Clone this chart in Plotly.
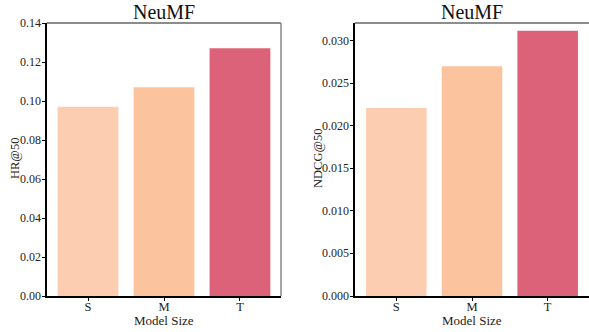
import plotly.graph_objects as go

categories = ["S", "M", "T"]
hr50 = [0.097, 0.107, 0.127]
ndcg50 = [0.0221, 0.0270, 0.0312]
bar_colors = ["#FDCDB1", "#FCC39F", "#DC627A"]
hr_ticks = [0.00, 0.02, 0.04, 0.06, 0.08, 0.10, 0.12, 0.14]
ndcg_ticks = [0.000, 0.005, 0.010, 0.015, 0.020, 0.025, 0.030]
hr_ticktext = ["0.00", "0.02", "0.04", "0.06", "0.08", "0.10", "0.12", "0.14"]
ndcg_ticktext = ["0.000", "0.005", "0.010", "0.015", "0.020", "0.025", "0.030"]

W, H = 589, 332
font = "Liberation Serif, Times New Roman, serif"

fig = go.Figure()
fig.add_trace(go.Bar(x=categories, y=hr50, marker=dict(color=bar_colors, line=dict(width=0)),
                     width=0.8, xaxis="x", yaxis="y", showlegend=False))
fig.add_trace(go.Bar(x=categories, y=ndcg50, marker=dict(color=bar_colors, line=dict(width=0)),
                     width=0.8, xaxis="x2", yaxis="y2", showlegend=False))

ydom = [1 - 296 / H, 1 - 23 / H]
axis_common = dict(showgrid=False, zeroline=False, showline=True, linecolor="black", linewidth=1.5,
                   ticks="outside", ticklen=3, tickwidth=1, tickcolor="black", automargin=False,
                   tickfont=dict(family=font, size=12.5, color="#222"))

fig.update_layout(
    template="none",
    width=W, height=H, margin=dict(l=0, r=0, t=0, b=0, pad=0),
    plot_bgcolor="white", paper_bgcolor="white",
    font=dict(family=font, color="#222"),
    bargap=0.2,
    xaxis=dict(domain=[47 / W, 281 / W], range=[-0.54, 2.54], anchor="y",
               ticklabelstandoff=-5, **axis_common),
    yaxis=dict(domain=ydom, range=[0, 0.14], anchor="x", tickmode="array", tickvals=hr_ticks,
               showticklabels=False, **axis_common),
    xaxis2=dict(domain=[355 / W, 1.0], range=[-0.546, 2.546], anchor="y2",
                ticklabelstandoff=-5, **axis_common),
    yaxis2=dict(domain=ydom, range=[0, 0.0321], anchor="x2", tickmode="array", tickvals=ndcg_ticks,
                showticklabels=False, **axis_common),
)

# y tick labels (serif), positioned through the y axes
for xr, yr, vals, texts in [("x domain", "y", hr_ticks, hr_ticktext),
                            ("x2 domain", "y2", ndcg_ticks, ndcg_ticktext)]:
    for v, t in zip(vals, texts):
        fig.add_annotation(text=t, xref=xr, yref=yr, x=0, y=v, xanchor="right", yanchor="middle",
                           xshift=-4, showarrow=False,
                           font=dict(family=font, size=12, color="#222"))

# grey top/right spines
for xr, yr in [("x domain", "y domain"), ("x2 domain", "y2 domain")]:
    fig.add_shape(type="line", xref=xr, yref=yr, x0=0, x1=1, y0=1, y1=1,
                  line=dict(color="#666", width=1.5))
fig.add_shape(type="line", xref="x domain", yref="y domain", x0=1, x1=1, y0=0, y1=1,
              line=dict(color="#888", width=1.5))

# titles and axis labels
for xr in ["x domain", "x2 domain"]:
    fig.add_annotation(text="NeuMF", xref=xr, yref="paper", x=0.5, y=1 - 12 / H,
                       xanchor="center", yanchor="middle", showarrow=False,
                       font=dict(family=font, size=20, color="#111"))
    fig.add_annotation(text="Model Size", xref=xr, yref="paper", x=0.5, y=1 - 320 / H,
                       xanchor="center", yanchor="middle", showarrow=False,
                       font=dict(family=font, size=13, color="#222"))

for txt, xpix in [("HR@50", 15), ("NDCG@50", 318)]:
    fig.add_annotation(text=txt, xref="paper", yref="paper", x=xpix / W, y=1 - 159 / H,
                       xanchor="center", yanchor="middle", textangle=-90, showarrow=False,
                       font=dict(family=font, size=12.5, color="#222"))

fig.write_html("out.html")
